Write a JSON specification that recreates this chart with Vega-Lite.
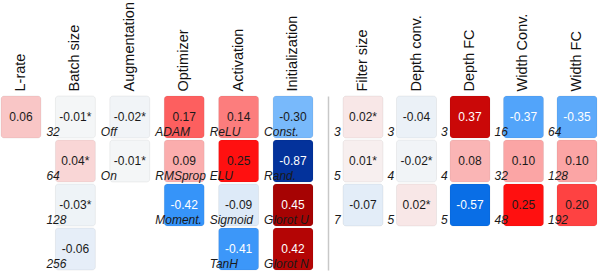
{
  "$schema": "https://vega.github.io/schema/vega-lite/v6.json",
  "padding": {"top": 1, "left": 0, "right": 0, "bottom": 0},
  "autosize": {"type": "pad"},
  "background": "white",
  "config": {
    "view": {"stroke": null},
    "font": "Liberation Sans",
    "concat": {"spacing": 6},
    "axis": {"labelFont": "Liberation Sans"}
  },
  "datasets": {
    "cells": [
      {"side": "L", "param": "L-rate", "row": 1, "cat": "", "value": 0.06, "text": "0.06"},
      {"side": "L", "param": "Batch size", "row": 1, "cat": "32", "value": -0.01, "text": "-0.01*"},
      {"side": "L", "param": "Batch size", "row": 2, "cat": "64", "value": 0.04, "text": "0.04*"},
      {"side": "L", "param": "Batch size", "row": 3, "cat": "128", "value": -0.03, "text": "-0.03*"},
      {"side": "L", "param": "Batch size", "row": 4, "cat": "256", "value": -0.06, "text": "-0.06"},
      {"side": "L", "param": "Augmentation", "row": 1, "cat": "Off", "value": -0.02, "text": "-0.02*"},
      {"side": "L", "param": "Augmentation", "row": 2, "cat": "On", "value": -0.01, "text": "-0.01*"},
      {"side": "L", "param": "Optimizer", "row": 1, "cat": "ADAM", "value": 0.17, "text": "0.17"},
      {"side": "L", "param": "Optimizer", "row": 2, "cat": "RMSprop", "value": 0.09, "text": "0.09"},
      {"side": "L", "param": "Optimizer", "row": 3, "cat": "Moment.", "value": -0.42, "text": "-0.42"},
      {"side": "L", "param": "Activation", "row": 1, "cat": "ReLU", "value": 0.14, "text": "0.14"},
      {"side": "L", "param": "Activation", "row": 2, "cat": "ELU", "value": 0.25, "text": "0.25"},
      {"side": "L", "param": "Activation", "row": 3, "cat": "Sigmoid", "value": -0.09, "text": "-0.09"},
      {"side": "L", "param": "Activation", "row": 4, "cat": "TanH", "value": -0.41, "text": "-0.41"},
      {"side": "L", "param": "Initialization", "row": 1, "cat": "Const.", "value": -0.30, "text": "-0.30"},
      {"side": "L", "param": "Initialization", "row": 2, "cat": "Rand.", "value": -0.87, "text": "-0.87"},
      {"side": "L", "param": "Initialization", "row": 3, "cat": "Glorot U", "value": 0.45, "text": "0.45"},
      {"side": "L", "param": "Initialization", "row": 4, "cat": "Glorot N", "value": 0.42, "text": "0.42"},
      {"side": "R", "param": "Filter size", "row": 1, "cat": "3", "value": 0.02, "text": "0.02*"},
      {"side": "R", "param": "Filter size", "row": 2, "cat": "5", "value": 0.01, "text": "0.01*"},
      {"side": "R", "param": "Filter size", "row": 3, "cat": "7", "value": -0.07, "text": "-0.07"},
      {"side": "R", "param": "Depth conv.", "row": 1, "cat": "3", "value": -0.04, "text": "-0.04"},
      {"side": "R", "param": "Depth conv.", "row": 2, "cat": "4", "value": -0.02, "text": "-0.02*"},
      {"side": "R", "param": "Depth conv.", "row": 3, "cat": "5", "value": 0.02, "text": "0.02*"},
      {"side": "R", "param": "Depth FC", "row": 1, "cat": "3", "value": 0.37, "text": "0.37"},
      {"side": "R", "param": "Depth FC", "row": 2, "cat": "4", "value": 0.08, "text": "0.08"},
      {"side": "R", "param": "Depth FC", "row": 3, "cat": "5", "value": -0.57, "text": "-0.57"},
      {"side": "R", "param": "Width Conv.", "row": 1, "cat": "16", "value": -0.37, "text": "-0.37"},
      {"side": "R", "param": "Width Conv.", "row": 2, "cat": "32", "value": 0.10, "text": "0.10"},
      {"side": "R", "param": "Width Conv.", "row": 3, "cat": "48", "value": 0.25, "text": "0.25"},
      {"side": "R", "param": "Width FC", "row": 1, "cat": "64", "value": -0.35, "text": "-0.35"},
      {"side": "R", "param": "Width FC", "row": 2, "cat": "128", "value": 0.10, "text": "0.10"},
      {"side": "R", "param": "Width FC", "row": 3, "cat": "192", "value": 0.20, "text": "0.20"}
    ]
  },
  "hconcat": [
    {
      "width": 312,
      "height": 174,
      "data": {"name": "cells"},
      "transform": [{"filter": "datum.side == 'L'"}],
      "encoding": {
        "x": {
          "field": "param", "type": "nominal",
          "sort": ["L-rate", "Batch size", "Augmentation", "Optimizer", "Activation", "Initialization"],
          "scale": {"paddingInner": 0.266, "paddingOuter": 0},
          "axis": {"orient": "top", "title": null, "labelAngle": -90, "labelFontSize": 14.5, "labelColor": "#111111", "domain": false, "ticks": false, "labelPadding": 5}
        },
        "y": {
          "field": "row", "type": "ordinal",
          "scale": {"paddingInner": 0.045, "paddingOuter": 0},
          "axis": {"orient": "right", "offset": 15, "domain": true, "domainColor": "#c8c8c8", "domainWidth": 1.5, "labels": false, "ticks": false, "title": null, "grid": false}
        }
      },
      "layer": [
        {
          "mark": {"type": "rect", "cornerRadius": 3, "stroke": "#000000", "strokeOpacity": 0.06, "strokeWidth": 1},
          "encoding": {
            "color": {
              "field": "value", "type": "quantitative", "legend": null,
              "scale": {"domain": [-1, -0.5, -0.3, -0.1, 0, 0.1, 0.25, 0.5], "range": ["#00187a", "#0a7cf7", "#78b9fb", "#dae8f8", "#f7f7f7", "#fba5a5", "#ff1010", "#900000"], "interpolate": "rgb"}
            }
          }
        },
        {
          "mark": {"type": "text", "fontSize": 12, "baseline": "middle", "align": "center"},
          "encoding": {
            "text": {"field": "text"},
            "color": {"condition": {"test": "abs(datum.value) > 0.32", "value": "#ffffff"}, "value": "#1a1a1a"}
          }
        },
        {
          "transform": [{"filter": "datum.cat != ''"}],
          "mark": {"type": "text", "fontSize": 12, "fontStyle": "italic", "align": "left", "baseline": "alphabetic", "dx": -9, "dy": -2, "color": "#1a1a1a"},
          "encoding": {
            "x": {"field": "param", "type": "nominal", "sort": ["L-rate", "Batch size", "Augmentation", "Optimizer", "Activation", "Initialization"], "bandPosition": 0},
            "y": {"field": "row", "type": "ordinal", "bandPosition": 1},
            "text": {"field": "cat"}
          }
        }
      ]
    },
    {
      "width": 254,
      "height": 130,
      "data": {"name": "cells"},
      "transform": [{"filter": "datum.side == 'R'"}],
      "encoding": {
        "x": {
          "field": "param", "type": "nominal",
          "sort": ["Filter size", "Depth conv.", "Depth FC", "Width Conv.", "Width FC"],
          "scale": {"paddingInner": 0.252, "paddingOuter": 0},
          "axis": {"orient": "top", "title": null, "labelAngle": -90, "labelFontSize": 14.5, "labelColor": "#111111", "domain": false, "ticks": false, "labelPadding": 5}
        },
        "y": {
          "field": "row", "type": "ordinal",
          "scale": {"paddingInner": 0.045, "paddingOuter": 0},
          "axis": null
        }
      },
      "layer": [
        {
          "mark": {"type": "rect", "cornerRadius": 3, "stroke": "#000000", "strokeOpacity": 0.06, "strokeWidth": 1},
          "encoding": {
            "color": {
              "field": "value", "type": "quantitative", "legend": null,
              "scale": {"domain": [-1, -0.5, -0.3, -0.1, 0, 0.1, 0.25, 0.5], "range": ["#00187a", "#0a7cf7", "#78b9fb", "#dae8f8", "#f7f7f7", "#fba5a5", "#ff1010", "#900000"], "interpolate": "rgb"}
            }
          }
        },
        {
          "mark": {"type": "text", "fontSize": 12, "baseline": "middle", "align": "center"},
          "encoding": {
            "text": {"field": "text"},
            "color": {"condition": {"test": "abs(datum.value) > 0.32", "value": "#ffffff"}, "value": "#1a1a1a"}
          }
        },
        {
          "mark": {"type": "text", "fontSize": 12, "fontStyle": "italic", "align": "left", "baseline": "alphabetic", "dx": -9, "dy": -2, "color": "#1a1a1a"},
          "encoding": {
            "x": {"field": "param", "type": "nominal", "sort": ["Filter size", "Depth conv.", "Depth FC", "Width Conv.", "Width FC"], "bandPosition": 0},
            "y": {"field": "row", "type": "ordinal", "bandPosition": 1},
            "text": {"field": "cat"}
          }
        }
      ]
    }
  ]
}
